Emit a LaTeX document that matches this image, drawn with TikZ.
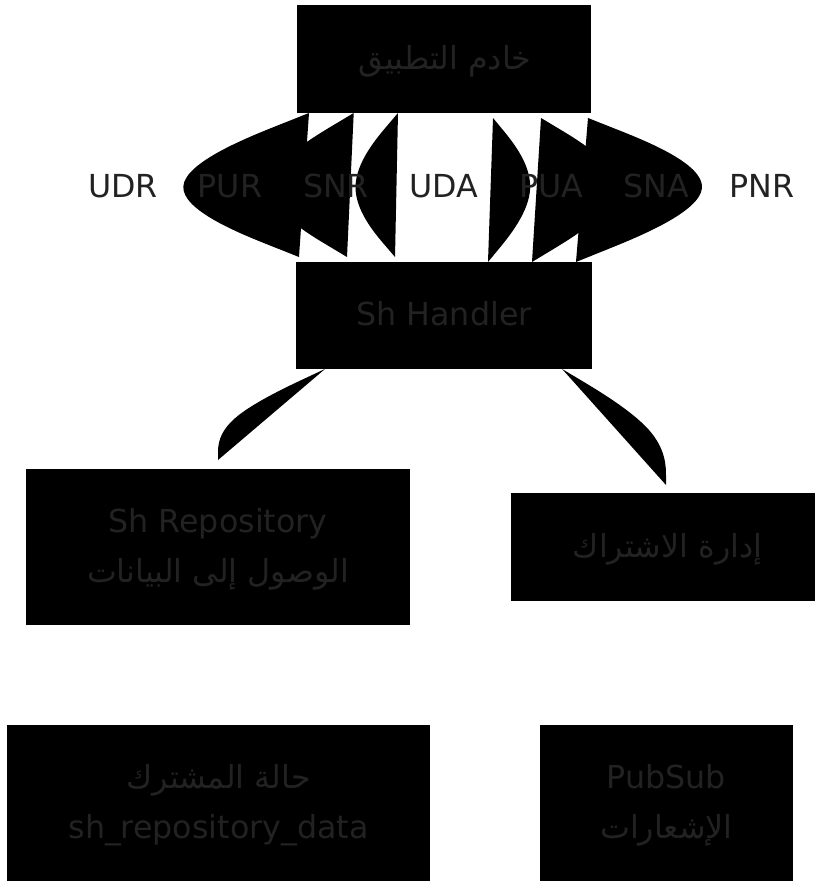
\documentclass[tikz,border=0pt]{standalone}
\usepackage{fontspec}
\setmainfont{DejaVu Sans}
\newfontfamily\arabicfont[Script=Arabic]{DejaVu Sans}
\TeXXeTstate=1
\usetikzlibrary{calc}
\definecolor{txtgray}{HTML}{222222}
\newcommand\lensedge[3]{%
  \fill[edgefill] (#1) -- ($(#1)!1/6!(#2)$)
    .. controls ($(#1)!1/3!(#2)$) and ($(#1)!2/3!(#2)$) .. ($1/6*(#1)+4/6*(#2)+1/6*(#3)$)
    .. controls ($(#2)!1/3!(#3)$) and ($(#2)!2/3!(#3)$) .. ($(#2)!5/6!(#3)$)
    -- (#3) -- cycle;}
\tikzset{
  box/.style={fill=black, draw=none, inner sep=0pt, outer sep=0pt},
  txt/.style={text=txtgray, font=\fontsize{31.7}{38}\selectfont, inner sep=0pt, outer sep=0pt, anchor=base},
  edgefill/.style={fill=black, draw=none},
}
\begin{document}
\begin{tikzpicture}[x=1pt,y=-1pt]
\useasboundingbox (0,0) rectangle (815,883);
% boxes
\node[box, minimum width=294, minimum height=108] (AS) at (444,59) {};
\node[box, minimum width=296, minimum height=107] (SH) at (444,315.5) {};
\node[box, minimum width=384, minimum height=156] (Repo) at (218,547) {};
\node[box, minimum width=304, minimum height=108] (Sub) at (663,547) {};
\node[box, minimum width=423, minimum height=156] (State) at (218.5,803) {};
\node[box, minimum width=253, minimum height=156] (PubSub) at (666.5,803) {};
% box texts
\node[txt] (AST) at ($(AS.center)+(1,11)$) {\arabicfont\beginR خادم التطبيق\endR};
\node[txt] (SHT) at ($(SH.center)+(0,9.5)$) {Sh Handler};
\node[txt] (RepoT1) at ($(Repo.center)+(0,-15)$) {Sh Repository};
\node[txt] (RepoT2) at ($(Repo.center)+(0,35)$) {\arabicfont\beginR الوصول إلى البيانات\endR};
\node[txt] (SubT) at ($(Sub.center)+(4.5,10)$) {\arabicfont\beginR إدارة الاشتراك\endR};
\node[txt] (StateT1) at ($(State.center)+(0,-15)$) {\arabicfont\beginR حالة المشترك\endR};
\node[txt] (StateT2) at ($(State.center)+(0,35)$) {sh\_repository\_data};
\node[txt] (PubSubT1) at ($(PubSub.center)+(0,-15)$) {PubSub};
\node[txt] (PubSubT2) at ($(PubSub.center)+(0,35)$) {\arabicfont\beginR الإشعارات\endR};
% bend points (label positions)
\coordinate (bUDR) at (123,187);
\coordinate (bPUR) at (230,187);
\coordinate (bSNR) at (335,187);
\coordinate (bUDA) at (444,187);
\coordinate (bPUA) at (550,187);
\coordinate (bSNA) at (656,187);
\coordinate (bPNR) at (762,187);
% edge ends: AS -> SH
\coordinate (sUDR) at ($(AS.south west)!0.0408!(AS.south east)$);
\coordinate (eUDR) at ($(SH.north west)!0.0101!(SH.north east)+(0,-5)$);
\coordinate (sPUR) at ($(AS.south west)!0.1929!(AS.south east)$);
\coordinate (ePUR) at ($(SH.north west)!0.1723!(SH.north east)+(0,-5)$);
\coordinate (sSNR) at ($(AS.south west)!0.3435!(AS.south east)$);
\coordinate (eSNR) at ($(SH.north west)!0.3345!(SH.north east)+(0,-5)$);
% edge ends: SH -> AS
\coordinate (sPUA) at ($(SH.north west)!0.6486!(SH.north east)$);
\coordinate (ePUA) at ($(AS.south west)!0.6667!(AS.south east)+(0,5)$);
\coordinate (sSNA) at ($(SH.north west)!0.7973!(SH.north east)$);
\coordinate (eSNA) at ($(AS.south west)!0.830!(AS.south east)+(0,5)$);
\coordinate (sPNR) at ($(SH.north west)!0.9459!(SH.north east)$);
\coordinate (ePNR) at ($(AS.south west)!0.9898!(AS.south east)+(0,5)$);
\lensedge{sUDR}{bUDR}{eUDR}
\lensedge{sPUR}{bPUR}{ePUR}
\lensedge{sSNR}{bSNR}{eSNR}
\lensedge{sPUA}{bPUA}{ePUA}
\lensedge{sSNA}{bSNA}{eSNA}
\lensedge{sPNR}{bPNR}{ePNR}
% lower edges
\coordinate (sRepo) at ($(SH.south west)!0.098!(SH.south east)$);
\coordinate (bRepo) at (218,419);
\coordinate (eRepo) at ($(Repo.north)+(0,-9)$);
\coordinate (sSub) at ($(SH.south west)!0.899!(SH.south east)$);
\coordinate (bSub) at (666,431);
\coordinate (eSub) at ($(Sub.north)+(3,-8)$);
\lensedge{sRepo}{bRepo}{eRepo}
\lensedge{sSub}{bSub}{eSub}
% edge labels
\node[txt] (lUDR) at (123,197) {UDR};
\node[txt] (lPUR) at (230,197) {PUR};
\node[txt] (lSNR) at (336,197) {SNR};
\node[txt] (lUDA) at (444,197) {UDA};
\node[txt] (lPUA) at (551,197) {PUA};
\node[txt] (lSNA) at (656,197) {SNA};
\node[txt] (lPNR) at (762,197) {PNR};
\end{tikzpicture}
\end{document}
